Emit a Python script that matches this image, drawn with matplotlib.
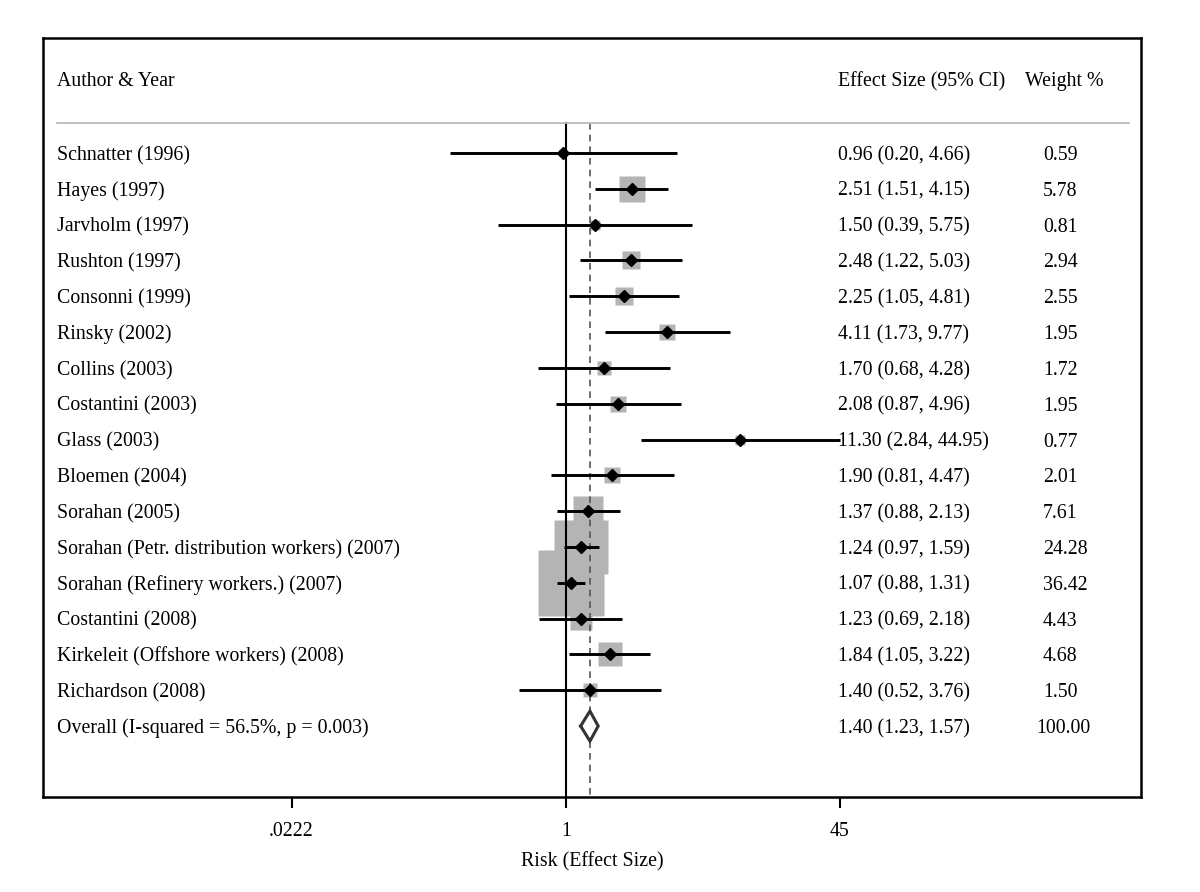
import matplotlib
matplotlib.use("Agg")
import matplotlib.pyplot as plt
import numpy as np

plt.rcParams['font.family'] = ['Liberation Serif', 'DejaVu Serif']

studies = ["Schnatter (1996)", "Hayes (1997)", "Jarvholm (1997)", "Rushton (1997)",
           "Consonni (1999)", "Rinsky (2002)", "Collins (2003)", "Costantini (2003)",
           "Glass (2003)", "Bloemen (2004)", "Sorahan (2005)",
           "Sorahan (Petr. distribution workers) (2007)",
           "Sorahan (Refinery workers.) (2007)", "Costantini (2008)",
           "Kirkeleit (Offshore workers) (2008)", "Richardson (2008)"]
es = [0.96, 2.51, 1.50, 2.48, 2.25, 4.11, 1.70, 2.08, 11.30, 1.90, 1.37, 1.24, 1.07, 1.23, 1.84, 1.40]
lo = [0.20, 1.51, 0.39, 1.22, 1.05, 1.73, 0.68, 0.87, 2.84, 0.81, 0.88, 0.97, 0.88, 0.69, 1.05, 0.52]
hi = [4.66, 4.15, 5.75, 5.03, 4.81, 9.77, 4.28, 4.96, 44.95, 4.47, 2.13, 1.59, 1.31, 2.18, 3.22, 3.76]
weight = [0.59, 5.78, 0.81, 2.94, 2.55, 1.95, 1.72, 1.95, 0.77, 2.01, 7.61, 24.28, 36.42, 4.43, 4.68, 1.50]

overall_label = "Overall (I-squared = 56.5%, p = 0.003)"
overall = (1.40, 1.23, 1.57)
overall_weight = "100.00"

tick_vals = [0.0222, 1, 45]
tick_labels = [".0222", "1", "45"]

fig = plt.figure(figsize=(12, 8.92), dpi=100)
ax = fig.add_axes([43/1200, 95/892, 1098/1200, 759/892])
ax.set_xscale('log')
ax.set_xlim(np.exp(-7.26), np.exp(7.99))
ax.set_ylim(17.98, -3.21)

n = len(studies)
rows = np.arange(n)

# weight squares (area ~ weight)
for i in range(n):
    ax.plot(es[i], rows[i], marker='s', ms=7.8 * np.sqrt(weight[i]),
            color='#b4b4b4', mec='none', zorder=1)

# reference lines
ax.plot([1, 1], [-0.84, 17.98], color='black', lw=1.5, zorder=2)
ax.plot([overall[0]] * 2, [-0.84, 17.98], color='#555555', lw=1.2,
        ls=(0, (4, 3)), zorder=2)

# confidence intervals + point estimates
for i in range(n):
    ax.plot([lo[i], hi[i]], [rows[i]] * 2, color='black', lw=2.1,
            solid_capstyle='butt', zorder=3)
    ax.plot(es[i], rows[i], marker='D', ms=6.3, color='black', zorder=4)

# overall diamond
oy = n
dx = [overall[1], overall[0], overall[2], overall[0], overall[1]]
dy = [oy, oy - 0.42, oy, oy + 0.42, oy]
ax.fill(dx, dy, color='white', zorder=3)
ax.plot(dx, dy, color='#333333', lw=2.2, zorder=4, solid_joinstyle='miter')

# header + separator
ax.plot([np.exp(-7.06), np.exp(7.83)], [-0.84, -0.84], color='#bbbbbb', lw=1.3)
fs = 14.3
tr = ax.get_yaxis_transform()
ax.text(0.0128, -2.07, "Author & Year", fontsize=fs, va='center_baseline', transform=tr)
ax.text(0.724, -2.07, "Effect Size (95% CI)", fontsize=fs, va='center_baseline', transform=tr)
ax.text(0.8944, -2.07, "Weight %", fontsize=fs, va='center_baseline', transform=tr)

labels = studies + [overall_label]
es_txt = ["%.2f (%.2f, %.2f)" % (es[i], lo[i], hi[i]) for i in range(n)]
es_txt.append("%.2f (%.2f, %.2f)" % overall)
w_txt = ["%.2f" % w for w in weight] + [overall_weight]
for i in range(n + 1):
    ax.text(0.0128, i, labels[i], fontsize=fs, va='center_baseline', transform=tr)
    ax.text(0.724, i, es_txt[i], fontsize=fs, va='center_baseline', transform=tr)
    wx = 0.9107 if w_txt[i] != overall_weight else 0.9044
    ax.text(wx, i, w_txt[i], fontsize=fs, va='center_baseline', transform=tr)

ax.set_xticks(tick_vals)
ax.set_xticklabels(tick_labels, fontsize=fs)
ax.xaxis.set_minor_locator(matplotlib.ticker.NullLocator())
ax.tick_params(axis='x', length=8, width=1.5, pad=10)
ax.set_yticks([])
ax.set_xlabel("Risk (Effect Size)", fontsize=fs, labelpad=8)
for s in ax.spines.values():
    s.set_linewidth(1.8)

fig.savefig("out.png", dpi=100)
